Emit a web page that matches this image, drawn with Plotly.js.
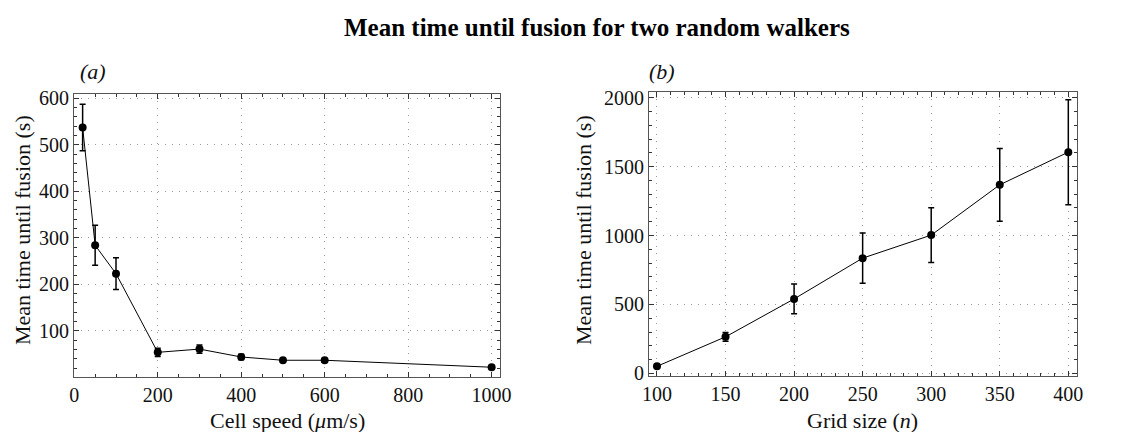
<!DOCTYPE html>
<html>
<head>
<meta charset="utf-8">
<script src="https://cdn.plot.ly/plotly-3.0.1.min.js"></script>
<style>html,body{margin:0;padding:0;background:#fff;}#chart{width:1122px;height:432px;}</style>
</head>
<body>
<div id="chart"></div>
<script>
// Panel (a): mean time until fusion vs cell speed
var speedA = [20, 50, 100, 200, 300, 400, 500, 600, 1000];
var timeA  = [537, 284, 223, 54, 61, 44, 37, 37, 22];
var errA   = [50, 43, 34, 9, 9, 6, 4, 4, 3];

// Panel (b): mean time until fusion vs grid size
var gridB = [100, 150, 200, 250, 300, 350, 400];
var timeB = [51, 265, 540, 836, 1003, 1368, 1605];
var errB  = [12, 32, 108, 182, 198, 264, 381];

var FONT = "Liberation Serif";

function trace(x, y, e, xa, ya) {
  return {
    x: x, y: y, xaxis: xa, yaxis: ya, type: 'scatter', mode: 'lines+markers',
    line: {color: '#000', width: 1},
    marker: {color: '#000', size: 8},
    error_y: {type: 'data', array: e, visible: true, color: '#000', thickness: 1.5, width: 3},
    showlegend: false, hoverinfo: 'x+y'
  };
}

var data = [
  trace(speedA, timeA, errA, 'x', 'y'),
  trace(gridB, timeB, errB, 'x2', 'y2')
];

function axis(extra) {
  var base = {
    showline: true, linecolor: '#555', linewidth: 1.2, mirror: 'allticks',
    ticks: 'inside', ticklen: 5, tickwidth: 1, tickcolor: '#333',
    showgrid: true, gridcolor: '#999', griddash: '1px,6px', gridwidth: 1,
    zeroline: false,
    tickfont: {family: FONT, size: 20, color: '#111'},
    fixedrange: true
  };
  for (var k in extra) base[k] = extra[k];
  return base;
}

var layout = {
  width: 1122, height: 432,
  margin: {l: 0, r: 0, t: 0, b: 0},
  paper_bgcolor: '#fff', plot_bgcolor: '#fff',
  font: {family: FONT, color: '#111'},
  xaxis: axis({domain: [0.0662, 0.4456], range: [0, 1020], tickvals: [0, 200, 400, 600, 800, 1000],
               minor: {dtick: 50, tick0: 0, ticks: 'inside', ticklen: 3, tickcolor: '#333', showgrid: false}, anchor: 'y'}),
  yaxis: axis({domain: [0.1273, 0.7824], range: [1, 609], tickvals: [100, 200, 300, 400, 500, 600],
               minor: {dtick: 20, tick0: 0, ticks: 'inside', ticklen: 3, tickcolor: '#333', showgrid: false}, anchor: 'x'}),
  xaxis2: axis({domain: [0.5787, 0.9596], range: [94.4, 406.1], tickvals: [100, 150, 200, 250, 300, 350, 400],
               minor: {dtick: 10, tick0: 0, ticks: 'inside', ticklen: 3, tickcolor: '#333', showgrid: false}, anchor: 'y2'}),
  yaxis2: axis({domain: [0.1303, 0.7863], range: [-17, 2039], tickvals: [0, 500, 1000, 1500, 2000],
               minor: {dtick: 100, tick0: 0, ticks: 'inside', ticklen: 3, tickcolor: '#333', showgrid: false}, anchor: 'x2'}),
  annotations: [
    {text: '<b>Mean time until fusion for two random walkers</b>', xref: 'paper', yref: 'paper',
     x: 597/1122, y: 1 - 27/432, xanchor: 'center', yanchor: 'middle', showarrow: false,
     font: {family: FONT, size: 25, color: '#000'}},
    {text: '<i>(a)</i>', xref: 'paper', yref: 'paper', x: 93/1122, y: 1 - 71/432,
     xanchor: 'center', yanchor: 'middle', showarrow: false, font: {family: FONT, size: 22, color: '#111'}},
    {text: '<i>(b)</i>', xref: 'paper', yref: 'paper', x: 662/1122, y: 1 - 71/432,
     xanchor: 'center', yanchor: 'middle', showarrow: false, font: {family: FONT, size: 22, color: '#111'}},
    {text: 'Cell speed (<i>μ</i>m/s)', xref: 'paper', yref: 'paper', x: 287/1122, y: 1 - 420/432,
     xanchor: 'center', yanchor: 'middle', showarrow: false, font: {family: FONT, size: 22, color: '#111'}},
    {text: 'Grid size (<i>n</i>)', xref: 'paper', yref: 'paper', x: 862/1122, y: 1 - 420/432,
     xanchor: 'center', yanchor: 'middle', showarrow: false, font: {family: FONT, size: 22, color: '#111'}},
    {text: 'Mean time until fusion (s)', xref: 'paper', yref: 'paper', x: 22/1122, y: 1 - 230/432,
     xanchor: 'center', yanchor: 'middle', textangle: -90, showarrow: false, font: {family: FONT, size: 22, color: '#111'}},
    {text: 'Mean time until fusion (s)', xref: 'paper', yref: 'paper', x: 583/1122, y: 1 - 230/432,
     xanchor: 'center', yanchor: 'middle', textangle: -90, showarrow: false, font: {family: FONT, size: 22, color: '#111'}}
  ]
};

Plotly.newPlot('chart', data, layout, {displayModeBar: false, staticPlot: true});
</script>
</body>
</html>
